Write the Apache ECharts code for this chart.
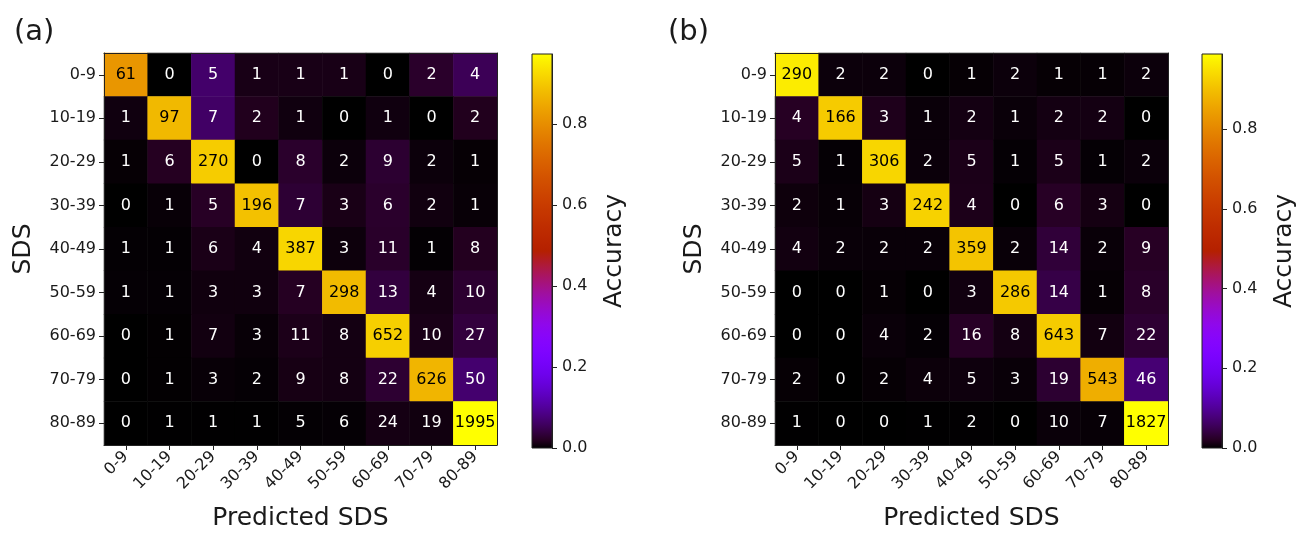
<!DOCTYPE html>
<html>
<head>
<meta charset="utf-8">
<script src="https://cdn.jsdelivr.net/npm/echarts@6/dist/echarts.min.js"></script>
<style>
  html, body { margin: 0; padding: 0; background: #fff; }
  #chart { width: 1304px; height: 536px; }
</style>
</head>
<body>
<div id="chart"></div>
<script>
const categories = ['0-9', '10-19', '20-29', '30-39', '40-49', '50-59', '60-69', '70-79', '80-89'];
const colorbarTicks = [0, 0.2, 0.4, 0.6, 0.8];

// rows = true SDS, columns = predicted SDS
const countsA = [
  [61, 0, 5, 1, 1, 1, 0, 2, 4],
  [1, 97, 7, 2, 1, 0, 1, 0, 2],
  [1, 6, 270, 0, 8, 2, 9, 2, 1],
  [0, 1, 5, 196, 7, 3, 6, 2, 1],
  [1, 1, 6, 4, 387, 3, 11, 1, 8],
  [1, 1, 3, 3, 7, 298, 13, 4, 10],
  [0, 1, 7, 3, 11, 8, 652, 10, 27],
  [0, 1, 3, 2, 9, 8, 22, 626, 50],
  [0, 1, 1, 1, 5, 6, 24, 19, 1995]
];
const countsB = [
  [290, 2, 2, 0, 1, 2, 1, 1, 2],
  [4, 166, 3, 1, 2, 1, 2, 2, 0],
  [5, 1, 306, 2, 5, 1, 5, 1, 2],
  [2, 1, 3, 242, 4, 0, 6, 3, 0],
  [4, 2, 2, 2, 359, 2, 14, 2, 9],
  [0, 0, 1, 0, 3, 286, 14, 1, 8],
  [0, 0, 4, 2, 16, 8, 643, 7, 22],
  [2, 0, 2, 4, 5, 3, 19, 543, 46],
  [1, 0, 0, 1, 2, 0, 10, 7, 1827]
];

const FONT = 'DejaVu Sans';
const INK = '#1a1a1a';

// matplotlib "gnuplot" colormap
function gnuplot(t) {
  const r = Math.sqrt(t), g = t * t * t, b = Math.max(0, Math.sin(2 * Math.PI * t));
  const h = v => Math.round(Math.min(1, Math.max(0, v)) * 255);
  return 'rgb(' + h(r) + ',' + h(g) + ',' + h(b) + ')';
}
const N_STOPS = 48;
const cmapColors = [];
for (let i = 0; i <= N_STOPS; i++) cmapColors.push(gnuplot(i / N_STOPS));

function toCells(counts) {
  const cells = [];
  counts.forEach((row, i) => {
    const total = row.reduce((a, b) => a + b, 0);
    row.forEach((c, j) => {
      const acc = c / total;
      cells.push({
        value: [j, i, acc],
        count: c,
        label: { color: acc > 0.5 ? '#000' : '#fff' }
      });
    });
  });
  return cells;
}
function maxOf(cells) {
  return Math.max.apply(null, cells.map(d => d.value[2]));
}

const cellsA = toCells(countsA);
const cellsB = toCells(countsB);
const maxA = maxOf(cellsA);
const maxB = maxOf(cellsB);

function gradient() {
  return {
    type: 'linear', x: 0, y: 1, x2: 0, y2: 0,
    colorStops: cmapColors.map((c, i) => ({ offset: i / N_STOPS, color: c }))
  };
}

const panels = [
  { tag: '(a)', cells: cellsA, vmax: maxA, left: 104, cbLeft: 532, tagLeft: 9 },
  { tag: '(b)', cells: cellsB, vmax: maxB, left: 775, cbLeft: 1202, tagLeft: 663 }
];

const option = {
  backgroundColor: '#fff',
  animation: false,
  textStyle: { fontFamily: FONT, color: INK },
  title: [],
  grid: [],
  xAxis: [],
  yAxis: [],
  visualMap: [],
  series: []
};

const catLabel = { fontFamily: FONT, fontSize: 16, color: INK };
const lineStyle = { color: '#222', width: 1 };

panels.forEach((p, k) => {
  const g = k * 2;
  option.title.push({
    text: p.tag, left: p.tagLeft, top: 13,
    textStyle: { fontFamily: FONT, fontSize: 29, fontWeight: 'normal', color: INK }
  });
  option.grid.push({ left: p.left, top: 53, width: 393, height: 395 });
  option.grid.push({
    left: p.cbLeft, top: 54, width: 20, height: 394,
    show: true, backgroundColor: gradient(), borderColor: '#222', borderWidth: 1
  });

  // heatmap axes: bottom + left carry labels, top + right only draw the frame
  option.xAxis.push({
    type: 'category', data: categories, gridIndex: g, position: 'bottom', z: 5,
    name: 'Predicted SDS', nameLocation: 'middle', nameGap: 61,
    nameTextStyle: { fontFamily: FONT, fontSize: 25, color: INK },
    axisLine: { show: true, lineStyle: lineStyle },
    axisTick: { show: true, alignWithLabel: true, length: 5, lineStyle: lineStyle },
    axisLabel: Object.assign({ rotate: 45, margin: 9, interval: 0 }, catLabel),
    splitLine: { show: false }
  });
  option.xAxis.push({
    type: 'category', data: categories, gridIndex: g, position: 'top', z: 5,
    axisLine: { show: true, lineStyle: lineStyle },
    axisTick: { show: false }, axisLabel: { show: false }
  });
  option.yAxis.push({
    type: 'category', data: categories, gridIndex: g, position: 'left', inverse: true, z: 5,
    name: 'SDS', nameLocation: 'middle', nameGap: 68, nameRotate: 90,
    nameTextStyle: { fontFamily: FONT, fontSize: 25, color: INK },
    axisLine: { show: true, lineStyle: lineStyle },
    axisTick: { show: true, alignWithLabel: true, length: 5, lineStyle: lineStyle },
    axisLabel: Object.assign({ margin: 8, interval: 0 }, catLabel),
    splitLine: { show: false }
  });
  option.yAxis.push({
    type: 'category', data: categories, gridIndex: g, position: 'right', inverse: true, z: 5,
    axisLine: { show: true, lineStyle: lineStyle },
    axisTick: { show: false }, axisLabel: { show: false }
  });

  // colorbar axes
  option.xAxis.push({ type: 'category', data: [''], gridIndex: g + 1, show: false });
  option.yAxis.push({
    type: 'value', gridIndex: g + 1, position: 'right', min: 0, max: p.vmax, interval: 0.2, z: 5,
    name: 'Accuracy', nameLocation: 'middle', nameGap: 50, nameRotate: 90,
    nameTextStyle: { fontFamily: FONT, fontSize: 25, color: INK },
    axisLine: { show: true, onZero: false, lineStyle: lineStyle },
    axisTick: { show: true, inside: false, length: 5, lineStyle: lineStyle },
    axisLabel: {
      fontFamily: FONT, fontSize: 16, color: INK, margin: 10, showMaxLabel: false,
      formatter: v => (colorbarTicks.some(t => Math.abs(t - v) < 1e-9) ? v.toFixed(1) : '')
    },
    splitLine: { show: false }
  });

  option.visualMap.push({
    type: 'continuous', show: false, seriesIndex: k, dimension: 2,
    min: 0, max: p.vmax, inRange: { color: cmapColors }
  });

  // axis indices: per panel we pushed heat-bottom/left, heat-top/right, colorbar => stride 3
  option.series.push({
    type: 'heatmap', xAxisIndex: k * 3, yAxisIndex: k * 3, data: p.cells,
    label: {
      show: true, fontFamily: FONT, fontSize: 16,
      formatter: d => String(d.data.count)
    },
    emphasis: { disabled: true },
    itemStyle: { borderWidth: 0 }
  });
});

const chart = echarts.init(document.getElementById('chart'));
chart.setOption(option);
</script>
</body>
</html>
